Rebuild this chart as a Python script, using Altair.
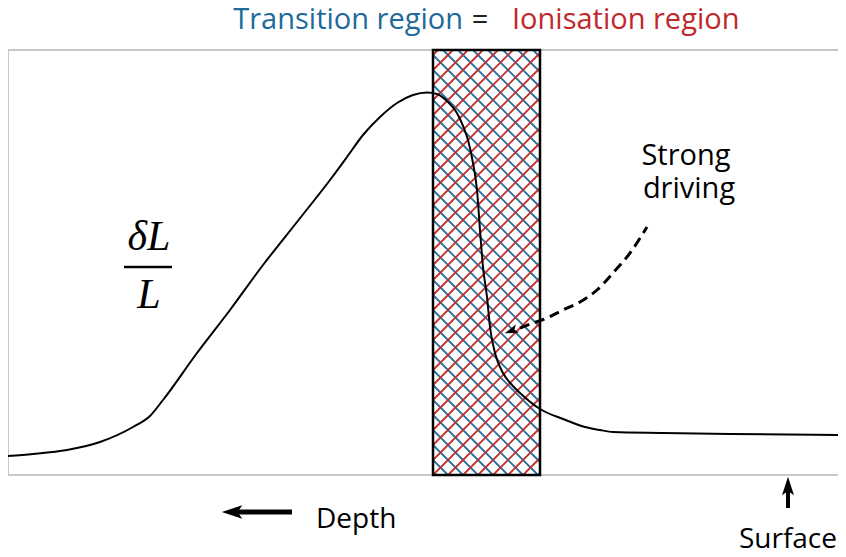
import altair as alt
import pandas as pd

# ---------------- data ----------------
TITLE_LEFT = "Transition region"
TITLE_EQ = "="
TITLE_RIGHT = "Ionisation region"
FRAC_TOP = "δL"
FRAC_BOTTOM = "L"
DRIVING_LINES = ["Strong", "driving"]
DEPTH_LABEL = "Depth"
SURFACE_LABEL = "Surface"

# luminosity perturbation profile (x: position, surface at the right; y: dL/L, arbitrary units)
depth = [0, 25, 59, 92, 125, 142, 155, 189, 222, 255, 289, 322, 339, 355, 372, 389, 405,
         419, 429, 439, 447, 452, 457, 460, 465, 469, 472, 475, 479, 482, 487, 495, 504,
         512, 532, 555, 577, 592, 605, 655, 722, 838]
dL_L = [19, 21, 25, 33, 48, 59, 75, 122, 165, 210, 253, 295, 318, 340, 358, 372, 380,
        382.5, 381, 374, 365, 356, 344, 335, 312, 285, 245, 208, 178, 148, 122, 102, 90,
        82, 66, 56, 48, 45, 43, 42, 41, 40]

# transition / ionisation region bounds
region_start = 425
region_end = 532

# dashed "strong driving" pointer path
driving_x = [512, 525, 539, 555, 572, 589, 605, 622, 639]
driving_y = [147, 152, 157, 165, 173, 185, 202, 222, 248]

X_MAX = 838
Y_MAX = 425

BLUE = "#1d6a9b"
RED = "#c0282d"
HATCH_BLUE = "#2a6e9e"
HATCH_RED = "#c4302f"
FONT = "Open Sans"

# ---------------- hatch lines (computed from region bounds) ----------------
spacing = 15
W = region_end - region_start
H = Y_MAX
rows = []
c = 0.0
while c <= H + W:  # "\" lines: y = -(x - x0) + c
    xa = max(region_start, region_start + c - H)
    xb = min(region_end, region_start + c)
    if xb > xa:
        rows.append({"x": xa, "y": c - (xa - region_start), "x2": xb, "y2": c - (xb - region_start), "fam": "blue"})
    c += spacing
c = -W + (W % spacing)
while c <= H:  # "/" lines: y = (x - x0) + c
    xa = max(region_start, region_start - c)
    xb = min(region_end, region_start + H - c)
    if xb > xa:
        rows.append({"x": xa, "y": (xa - region_start) + c, "x2": xb, "y2": (xb - region_start) + c, "fam": "red"})
    c += spacing
hatch_df = pd.DataFrame(rows)

xs = alt.Scale(domain=[0, X_MAX], nice=False, zero=False)
ys = alt.Scale(domain=[0, Y_MAX], nice=False, zero=False)

hatch = alt.Chart(hatch_df).mark_rule(strokeWidth=1.8).encode(
    x=alt.X("x:Q", scale=xs, axis=None),
    y=alt.Y("y:Q", scale=ys, axis=None),
    x2="x2:Q",
    y2="y2:Q",
    color=alt.Color("fam:N", scale=alt.Scale(domain=["blue", "red"], range=[HATCH_BLUE, HATCH_RED]), legend=None),
)

region_df = pd.DataFrame({"start": [region_start], "end": [region_end]})
region_box = alt.Chart(region_df).mark_rect(fillOpacity=0, stroke="black", strokeWidth=2.5).encode(
    x="start:Q", x2="end:Q", y=alt.datum(0), y2=alt.datum(Y_MAX)
)

curve_df = pd.DataFrame({"depth": depth, "dL": dL_L})
curve = alt.Chart(curve_df).mark_line(color="black", strokeWidth=2, interpolate="monotone").encode(
    x=alt.X("depth:Q", scale=xs, axis=None),
    y=alt.Y("dL:Q", scale=ys, axis=None),
)

drive_df = pd.DataFrame({"x": driving_x, "y": driving_y})
drive = alt.Chart(drive_df).mark_line(color="black", strokeWidth=3, strokeDash=[10, 6], interpolate="monotone").encode(
    x="x:Q", y="y:Q"
)

ARROW_LEFT = "M-1,0L1,-0.65L0.55,0L1,0.65Z"
ARROW_UP = "M0,-1L-0.65,1L0,0.55L0.65,1Z"


def one(label):
    return pd.DataFrame({"label": [label]})


def text(label, x, y, size=28, align="center", color="black", font=FONT, style=None):
    kw = dict(align=align, baseline="alphabetic", fontSize=size, font=font, color=color)
    if style:
        kw["fontStyle"] = style
    return alt.Chart(one(label)).mark_text(**kw).encode(
        x=alt.datum(x), y=alt.datum(y), text="label:N"
    )


drive_head = alt.Chart(one("head")).mark_point(
    shape=ARROW_LEFT, filled=True, size=180, color="black", opacity=1, angle=340
).encode(x=alt.datum(503), y=alt.datum(144))

frac_bar = alt.Chart(one("bar")).mark_rule(color="black", strokeWidth=2.5).encode(
    x=alt.datum(116), x2=alt.datum(164), y=alt.datum(208)
)

depth_shaft = alt.Chart(one("shaft")).mark_rule(color="black", strokeWidth=5).encode(
    x=alt.datum(230), x2=alt.datum(284), y=alt.datum(-37)
)
depth_head = alt.Chart(one("head")).mark_point(
    shape=ARROW_LEFT, filled=True, size=420, color="black", opacity=1
).encode(x=alt.datum(224), y=alt.datum(-37))

surf_shaft = alt.Chart(one("shaft")).mark_rule(color="black", strokeWidth=4).encode(
    x=alt.datum(780), y=alt.datum(-16), y2=alt.datum(-33)
)
surf_head = alt.Chart(one("head")).mark_point(
    shape=ARROW_UP, filled=True, size=340, color="black", opacity=1
).encode(x=alt.datum(780), y=alt.datum(-11))

layers = [
    hatch,
    region_box,
    curve,
    drive,
    drive_head,
    frac_bar,
    text(FRAC_TOP, 141, 225, size=42, font="Liberation Serif", style="italic"),
    text(FRAC_BOTTOM, 141, 167, size=42, font="Liberation Serif", style="italic"),
    text(TITLE_LEFT, 455, 446, size=29, align="right", color=BLUE),
    text(TITLE_EQ, 472, 446, size=29, color="#222222"),
    text(TITLE_RIGHT, 504, 446, size=29, align="left", color=RED),
    text(DRIVING_LINES[0], 678, 310, size=29),
    text(DRIVING_LINES[1], 681, 277, size=29),
    depth_shaft,
    depth_head,
    text(DEPTH_LABEL, 308, -53, align="left"),
    surf_shaft,
    surf_head,
    text(SURFACE_LABEL, 829, -73, align="right"),
]

chart = alt.layer(*layers).properties(
    width=X_MAX,
    height=Y_MAX,
    padding={"left": 0, "top": 42, "right": -8, "bottom": 80},
    autosize=alt.AutoSizeParams(type="none"),
).configure_view(stroke="#c8c8c8", strokeWidth=2).configure_axis(disable=True)

chart.save("out.html", embed_options={"renderer": "svg", "actions": False})
